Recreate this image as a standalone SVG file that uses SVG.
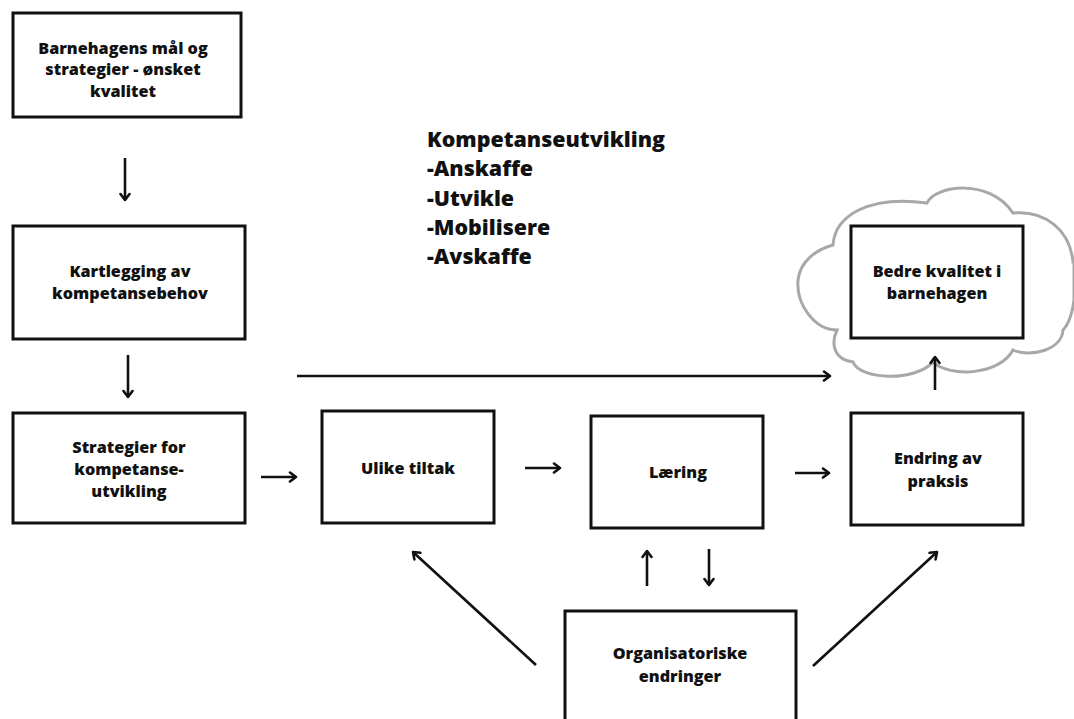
<svg xmlns="http://www.w3.org/2000/svg" width="1074" height="719" viewBox="0 0 1074 719">
<style>
.box{fill:#fff;stroke:#111;stroke-width:3}
.t{font-family:"Open Sans","Liberation Sans",sans-serif;font-weight:800;font-size:16.2px;fill:#111;text-anchor:middle}
.big{font-family:"Open Sans","Liberation Sans",sans-serif;font-weight:800;font-size:21.4px;fill:#111}
.c{fill:none;stroke:#111;stroke-width:2.6}
.cloud{fill:#fff;stroke:#a8a8a8;stroke-width:3}
</style>
<defs>
<marker id="ah" markerWidth="12" markerHeight="12" refX="9" refY="6" orient="auto" markerUnits="userSpaceOnUse">
<path d="M3,1.5 L9,6 L3,10.5" fill="none" stroke="#111" stroke-width="2.6" stroke-linecap="round" stroke-linejoin="round"/>
</marker>
</defs>
<rect width="1074" height="719" fill="#fff"/>

<g id="cloud">
<path class="cloud" d="M833,245 C835,215 870,195 927,203 C935,185 990,178 1013,213 C1045,210 1070,230 1073,262 L1074,262 L1074,300 C1072,315 1068,325 1063,330 C1062,350 1030,358 1013,350 C1000,375 950,378 933,362 C915,382 860,380 853,362 C835,360 830,345 837,330 C815,330 796,305 798,280 C800,262 815,250 833,245 Z"/>
</g>

<g id="n1"><rect class="box" x="13" y="13" width="228" height="104"/>
<text class="t" x="123" y="54">Barnehagens mål og</text>
<text class="t" x="123" y="75">strategier - ønsket</text>
<text class="t" x="123" y="97">kvalitet</text></g>

<g id="n2"><rect class="box" x="13" y="226" width="232" height="113"/>
<text class="t" x="130" y="277">Kartlegging av</text>
<text class="t" x="130" y="299">kompetansebehov</text></g>

<g id="n3"><rect class="box" x="13" y="413" width="232" height="110"/>
<text class="t" x="129" y="453">Strategier for</text>
<text class="t" x="129" y="475">kompetanse-</text>
<text class="t" x="129" y="497">utvikling</text></g>

<g id="n4"><rect class="box" x="322" y="411" width="172" height="112"/>
<text class="t" x="408" y="474">Ulike tiltak</text></g>

<g id="n5"><rect class="box" x="591" y="416" width="172" height="112"/>
<text class="t" x="678" y="478">Læring</text></g>

<g id="n6"><rect class="box" x="851" y="413" width="172" height="112"/>
<text class="t" x="938" y="464">Endring av</text>
<text class="t" x="938" y="487">praksis</text></g>

<g id="n7"><rect class="box" x="851" y="226" width="172" height="112"/>
<text class="t" x="937" y="277">Bedre kvalitet i</text>
<text class="t" x="937" y="299">barnehagen</text></g>

<g id="n8"><rect class="box" x="565" y="611" width="231" height="130"/>
<text class="t" x="680" y="659">Organisatoriske</text>
<text class="t" x="680" y="682">endringer</text></g>

<g id="label">
<text class="big" x="427" y="147">Kompetanseutvikling</text>
<text class="big" x="427" y="176">-Anskaffe</text>
<text class="big" x="427" y="206">-Utvikle</text>
<text class="big" x="427" y="235">-Mobilisere</text>
<text class="big" x="427" y="264">-Avskaffe</text>
</g>

<g id="connectors">
<line class="c" x1="125" y1="158" x2="125" y2="200" marker-end="url(#ah)"/>
<line class="c" x1="128" y1="355" x2="128" y2="397" marker-end="url(#ah)"/>
<line class="c" x1="297" y1="376" x2="830" y2="376" marker-end="url(#ah)"/>
<line class="c" x1="261" y1="477" x2="296" y2="477" marker-end="url(#ah)"/>
<line class="c" x1="525" y1="468" x2="560" y2="468" marker-end="url(#ah)"/>
<line class="c" x1="795" y1="473" x2="829" y2="473" marker-end="url(#ah)"/>
<line class="c" x1="935" y1="390" x2="935" y2="357" marker-end="url(#ah)"/>
<line class="c" x1="647" y1="586" x2="647" y2="551" marker-end="url(#ah)"/>
<line class="c" x1="709" y1="549" x2="709" y2="585" marker-end="url(#ah)"/>
<line class="c" x1="536" y1="665" x2="413" y2="552" marker-end="url(#ah)"/>
<line class="c" x1="813" y1="666" x2="937" y2="552" marker-end="url(#ah)"/>
</g>
</svg>
